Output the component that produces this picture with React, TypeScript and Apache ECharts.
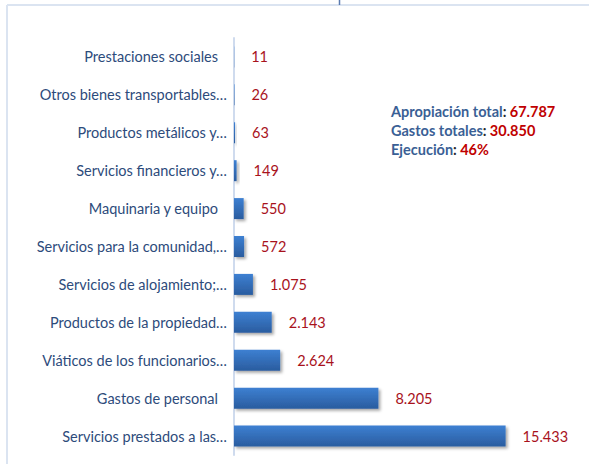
import React, { useEffect, useRef } from "react";
import * as echarts from "echarts";

const categories = [
  "Prestaciones sociales",
  "Otros bienes transportables…",
  "Productos metálicos y…",
  "Servicios financieros y…",
  "Maquinaria y equipo",
  "Servicios para la comunidad,…",
  "Servicios de alojamiento;…",
  "Productos de la propiedad…",
  "Viáticos de los funcionarios…",
  "Gastos de personal",
  "Servicios prestados a las…",
];
const values = [11, 26, 63, 149, 550, 572, 1075, 2143, 2624, 8205, 15433];
const summaryLabels = ["Apropiación total", "Gastos totales", "Ejecución"];
const summaryValues = ["67.787", "30.850", "46%"];

const fmt = (v: number) => v.toLocaleString("de-DE");

export default function App() {
  const ref = useRef<HTMLDivElement>(null);
  useEffect(() => {
    if (!ref.current) return;
    const chart = echarts.init(ref.current, null, { renderer: "svg" });
    const font = "Lato, 'Noto Sans', sans-serif";
    const labelStyle = { color: "#2d4b7b", fontSize: 14.5, fontFamily: font };
    chart.setOption({
      animation: false,
      backgroundColor: "#ffffff",
      textStyle: { fontFamily: font },
      grid: { left: 234, top: 38, width: 352, height: 417, containLabel: false },
      xAxis: {
        type: "value",
        min: 0,
        max: 20000,
        show: false,
      },
      yAxis: {
        type: "category",
        data: categories,
        inverse: true,
        axisLine: { show: true, lineStyle: { color: "#cfdbee", width: 2 } },
        axisTick: { show: false },
        axisLabel: {
          ...labelStyle,
          margin: 7,
          formatter: (v: string) => (v.endsWith("…") ? `{t|${v}}` : `{n|${v}}`),
          rich: {
            t: { ...labelStyle },
            n: { ...labelStyle, padding: [0, 9, 0, 0] },
          },
        },
        splitLine: { show: false },
      },
      series: [
        {
          type: "bar",
          data: values,
          barWidth: 21,
          itemStyle: {
            color: new echarts.graphic.LinearGradient(0, 0, 0, 1, [
              { offset: 0, color: "#3d80d2" },
              { offset: 1, color: "#2a5c9f" },
            ]),
            shadowColor: "rgba(0,0,0,0.35)",
            shadowBlur: 3,
            shadowOffsetX: 2,
            shadowOffsetY: 2,
          },
          label: {
            show: true,
            position: "right",
            distance: 17,
            color: "#a8121c",
            fontSize: 14.5,
            fontFamily: font,
            formatter: (p: any) => fmt(p.value),
          },
        },
      ],
      graphic: [
        {
          type: "line",
          shape: { x1: 7, y1: 5, x2: 589, y2: 5 },
          style: { stroke: "#dbe4f1", lineWidth: 2 },
        },
        {
          type: "line",
          shape: { x1: 7, y1: 5, x2: 7, y2: 464 },
          style: { stroke: "#dbe4f1", lineWidth: 2 },
        },
        {
          type: "line",
          shape: { x1: 339.5, y1: 0, x2: 339.5, y2: 5 },
          style: { stroke: "#5b7bb0", lineWidth: 1.5 },
        },
        {
          type: "text",
          x: 391,
          y: 102,
          style: {
            text: summaryLabels
              .map((l, i) => `{b|${l}}{k|:} {r|${summaryValues[i]}}`)
              .join("\n"),
            lineHeight: 19,
            rich: {
              b: { fontFamily: font, fontSize: 14.5, fontWeight: "bold", fill: "#3a5f95", lineHeight: 19 },
              k: { fontFamily: font, fontSize: 14.5, fontWeight: "bold", fill: "#2a2a2a", lineHeight: 19 },
              r: { fontFamily: font, fontSize: 14.5, fontWeight: "bold", fill: "#c00000", lineHeight: 19 },
            },
          },
        },
      ],
    });
    return () => chart.dispose();
  }, []);
  return (
    <div
      ref={ref}
      style={{ position: "fixed", left: 0, top: 0, width: 589, height: 464 }}
    />
  );
}
